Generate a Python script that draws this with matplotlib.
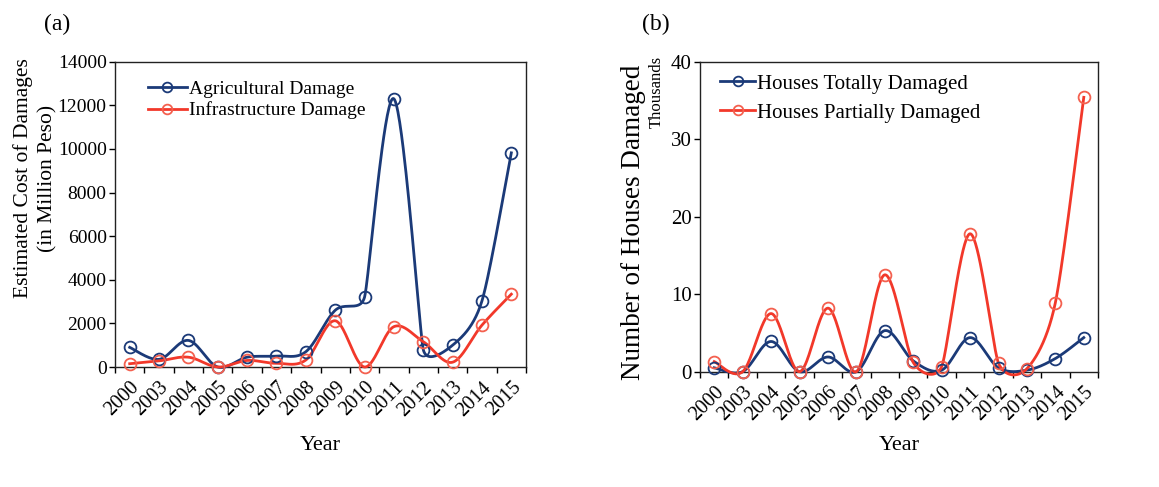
import numpy as np
import matplotlib
matplotlib.use('Agg')
import matplotlib.pyplot as plt

# ---------------- data ----------------
years = ['2000', '2003', '2004', '2005', '2006', '2007', '2008',
         '2009', '2010', '2011', '2012', '2013', '2014', '2015']
agri_damage = [900, 350, 1220, 0, 450, 500, 700,
               2600, 3200, 12300, 800, 1000, 3030, 9820]
infra_damage = [150, 280, 450, 0, 300, 170, 320,
                2120, 0, 1850, 1160, 220, 1920, 3340]
houses_total = [0.5, 0, 3.9, 0, 1.9, 0, 5.3,
                1.4, 0.2, 4.4, 0.5, 0.2, 1.7, 4.4]
houses_partial = [1.3, 0, 7.5, 0, 8.2, 0, 12.5,
                  1.2, 0.65, 17.8, 1.1, 0.4, 8.9, 35.4]

NAVY = '#1b3a78'
RED = '#f2382a'
plt.rcParams['font.family'] = ['Liberation Serif', 'DejaVu Serif']

W, H = 1159, 487
fig = plt.figure(figsize=(W / 100, H / 100), dpi=100)


def box(x0, y0, x1, y1):
    # pixel box (top-left origin) -> figure fraction rect
    return [x0 / W, 1 - y1 / H, (x1 - x0) / W, (y1 - y0) / H]


def smooth(ys, sx, sy, n=40):
    """Excel-like smoothed line: cubic bezier built in screen space."""
    xs = np.arange(len(ys), dtype=float)
    P = np.column_stack([xs * sx, np.asarray(ys, float) * sy])
    m = len(P)
    V = np.zeros_like(P)
    for i in range(m):
        a = P[max(i - 1, 0)]
        b = P[min(i + 1, m - 1)]
        v = (b - a) / 6
        dists = []
        if i > 0:
            dists.append(np.linalg.norm(P[i] - P[i - 1]))
        if i < m - 1:
            dists.append(np.linalg.norm(P[i + 1] - P[i]))
        lim = min(dists) / 2
        nv = np.linalg.norm(v)
        if nv > lim and nv > 0:
            v = v * lim / nv
        V[i] = v
    pts = [P[0]]
    t = np.linspace(0, 1, n)[1:, None]
    for i in range(m - 1):
        p0, p3 = P[i], P[i + 1]
        c1, c2 = p0 + V[i], p3 - V[i + 1]
        b = ((1 - t) ** 3) * p0 + 3 * ((1 - t) ** 2) * t * c1 \
            + 3 * (1 - t) * t ** 2 * c2 + t ** 3 * p3
        pts.extend(b)
    pts = np.array(pts)
    return pts[:, 0] / sx, pts[:, 1] / sy


def setup(ax, ymax, ystep, px_w, px_h, ytsize, ylab_y):
    n = len(years)
    ax.set_xlim(-0.5, n - 0.5)
    ax.set_ylim(0, ymax)
    ax.set_yticks(np.arange(0, ymax + 1, ystep))
    ax.set_xticks(range(n))
    ax.set_xticklabels(years, rotation=45, ha='right', rotation_mode='anchor')
    ax.set_xticks(np.arange(-0.5, n, 1), minor=True)
    ax.tick_params(axis='x', which='major', length=0, pad=8, labelsize=14.5)
    ax.tick_params(axis='x', which='minor', length=4, width=1, direction='out')
    ax.tick_params(axis='y', length=4, width=1, direction='out', pad=2,
                   labelsize=ytsize)
    for s in ax.spines.values():
        s.set_linewidth(1.0)
        s.set_color('#222222')
    ax.set_xlabel('Year', fontsize=16, va='center')
    ax.xaxis.set_label_coords(0.5, ylab_y)
    return px_w / n, px_h / ymax


def draw(ax, ys, color, mcolor, label, sx, sy):
    xs, yy = smooth(ys, sx, sy)
    ax.plot(xs, yy, color=color, lw=2.0, clip_on=False, zorder=3)
    ax.plot(range(len(ys)), ys, 'o', ms=8.5, mfc='none', mec=mcolor, mew=1.3,
            clip_on=False, zorder=4)
    # legend proxy
    ax.plot([], [], '-o', color=color, lw=2.0, ms=7, mfc='none', mec=mcolor,
            mew=1.3, label=label)


# ---------------- panel (a) ----------------
ax1 = fig.add_axes(box(115, 61.7, 526, 367))
sx, sy = setup(ax1, 14000, 2000, 411, 305.3, 14, -(445 - 367) / 305.3)
draw(ax1, agri_damage, NAVY, NAVY, 'Agricultural Damage', sx, sy)
draw(ax1, infra_damage, RED, '#f4604f', 'Infrastructure Damage', sx, sy)
ax1.legend(loc='upper left', bbox_to_anchor=(0.08, 0.94), frameon=False,
           fontsize=14, borderpad=0, borderaxespad=0, handlelength=2.0,
           handletextpad=0.1, labelspacing=0.2)
fig.text(23 / W, 1 - 178 / H, 'Estimated Cost of Damages', rotation=90,
         ha='center', va='center', fontsize=15.5)
fig.text(48 / W, 1 - 178 / H, '(in Million Peso)', rotation=90,
         ha='center', va='center', fontsize=15.5)
fig.text(57 / W, 1 - 24 / H, '(a)', ha='center', va='center', fontsize=17)

# ---------------- panel (b) ----------------
ax2 = fig.add_axes(box(700, 61.7, 1098, 371.7))
sx, sy = setup(ax2, 40, 10, 398, 310, 15, -(445 - 371.7) / 310)
draw(ax2, houses_total, NAVY, NAVY, 'Houses Totally Damaged', sx, sy)
draw(ax2, houses_partial, RED, '#f4604f', 'Houses Partially Damaged', sx, sy)
ax2.legend(loc='upper left', bbox_to_anchor=(0.05, 0.96), frameon=False,
           fontsize=15, borderpad=0, borderaxespad=0, handlelength=1.7,
           handletextpad=0.1, labelspacing=0.45)
fig.text(633 / W, 1 - 222 / H, 'Number of Houses Damaged', rotation=90,
         ha='center', va='center', fontsize=19.5)
fig.text(657 / W, 1 - 92 / H, 'Thousands', rotation=90,
         ha='center', va='center', fontsize=12)
fig.text(656 / W, 1 - 24 / H, '(b)', ha='center', va='center', fontsize=17)

fig.savefig('out.png', dpi=100)
